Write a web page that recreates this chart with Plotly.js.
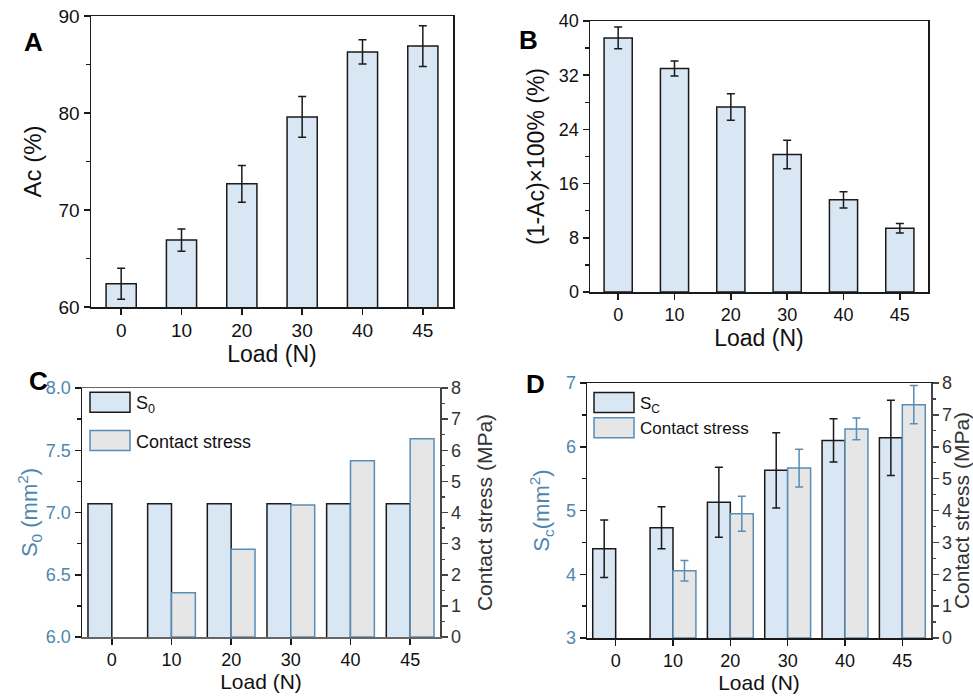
<!DOCTYPE html>
<html>
<head>
<meta charset="utf-8">
<script src="https://cdn.plot.ly/plotly-3.0.1.min.js"></script>
<style>html,body{margin:0;padding:0;background:#fff;}#chart{width:973px;height:697px;}</style>
</head>
<body>
<div id="chart"></div>
<script>
// ---- data ----
const loads = ['0', '10', '20', '30', '40', '45'];
const acValues = [62.4, 66.9, 72.7, 79.6, 86.3, 86.9];
const acErrors = [1.6, 1.15, 1.9, 2.1, 1.25, 2.1];
const poreValues = [37.5, 33.0, 27.3, 20.3, 13.6, 9.4];
const poreErrors = [1.6, 1.1, 1.95, 2.1, 1.2, 0.7];
const s0Values = [7.07, 7.07, 7.07, 7.07, 7.07, 7.07];
const stressC = [null, 1.42, 2.82, 4.24, 5.66, 6.37];
const scValues = [4.40, 4.73, 5.13, 5.63, 6.10, 6.14];
const scErrors = [0.45, 0.33, 0.55, 0.59, 0.34, 0.59];
const stressD = [null, 2.11, 3.90, 5.33, 6.56, 7.32];
const stressDErrors = [null, 0.32, 0.55, 0.59, 0.34, 0.60];

// ---- styles ----
const FONT = 'Liberation Sans, Arial, sans-serif';
const BLUE_FILL = '#d9e6f3';
const GRAY_FILL = '#e6e6e6';
const DARK = '#1a1a1a';
const STEEL = '#5a8db6';
const BLUE_TEXT = '#4f86ad';
const W = 973, H = 697;
const px = v => v / W;
const py = v => 1 - v / H;

const traces = [
  {type: 'bar', x: loads, y: acValues, xaxis: 'x', yaxis: 'y', width: 0.5,
   marker: {color: BLUE_FILL, line: {color: DARK, width: 1.5}},
   error_y: {type: 'data', array: acErrors, visible: true, color: DARK, thickness: 1.5, width: 4},
   showlegend: false},
  {type: 'bar', x: loads, y: poreValues, xaxis: 'x2', yaxis: 'y2', width: 0.5,
   marker: {color: BLUE_FILL, line: {color: DARK, width: 1.5}},
   error_y: {type: 'data', array: poreErrors, visible: true, color: DARK, thickness: 1.5, width: 4},
   showlegend: false},
  {type: 'bar', name: 'S<sub>0</sub>', x: loads, y: s0Values, xaxis: 'x3', yaxis: 'y3',
   width: 0.4, offset: -0.4, legendgroup: 'c1',
   marker: {color: BLUE_FILL, line: {color: DARK, width: 1.5}}, legend: 'legend'},
  {type: 'bar', name: 'Contact stress', x: loads, y: stressC, xaxis: 'x3', yaxis: 'y4',
   width: 0.4, offset: 0, legendgroup: 'c2',
   marker: {color: GRAY_FILL, line: {color: STEEL, width: 1.5}}, legend: 'legend'},
  {type: 'bar', name: 'S<sub>C</sub>', x: loads, y: scValues, xaxis: 'x4', yaxis: 'y5',
   width: 0.4, offset: -0.4, legendgroup: 'd1',
   marker: {color: BLUE_FILL, line: {color: DARK, width: 1.5}},
   error_y: {type: 'data', array: scErrors, visible: true, color: DARK, thickness: 1.5, width: 4},
   legend: 'legend2'},
  {type: 'bar', name: 'Contact stress', x: loads, y: stressD, xaxis: 'x4', yaxis: 'y6',
   width: 0.4, offset: 0, legendgroup: 'd2',
   marker: {color: GRAY_FILL, line: {color: STEEL, width: 1.5}},
   error_y: {type: 'data', array: stressDErrors, visible: true, color: STEEL, thickness: 1.5, width: 4},
   legend: 'legend2'}
];

function xAx(dom, anchor, tSize, size, standoff, lineColor) {
  return {
    domain: dom, anchor: anchor, type: 'category', range: [-0.5, 5.5],
    showline: true, linecolor: lineColor || DARK, linewidth: 1.5, mirror: true,
    ticks: 'outside', ticklen: 6, tickwidth: 1.5, tickcolor: DARK,
    tickfont: {family: FONT, size: size, color: '#111'},
    title: {text: 'Load (N)', font: {family: FONT, size: tSize, color: '#111'}, standoff: standoff},
    showgrid: false, zeroline: false, fixedrange: true
  };
}
function yAx(dom, anchor, range, dtick, minorD, size, title, tSize, color, standoff, extra) {
  return Object.assign({
    domain: dom, anchor: anchor, range: range, dtick: dtick, tick0: 0,
    showline: true, linecolor: DARK, linewidth: 1.5,
    ticks: 'outside', ticklen: 6, tickwidth: 1.5, tickcolor: DARK,
    minor: {dtick: minorD, tick0: 0, ticks: 'outside', ticklen: 3.5, tickwidth: 1.3, tickcolor: DARK, showgrid: false},
    tickfont: {family: FONT, size: size, color: color},
    title: {text: title, font: {family: FONT, size: tSize, color: color}, standoff: standoff},
    showgrid: false, zeroline: false, fixedrange: true
  }, extra || {});
}
const rightMinor = {dtick: 0.5, tick0: 0, ticks: 'outside', ticklen: 3.5, tickwidth: 1.3, tickcolor: '#444', showgrid: false};

const layout = {
  width: W, height: H,
  margin: {l: 0, r: 0, t: 0, b: 0},
  paper_bgcolor: '#fff', plot_bgcolor: 'rgba(0,0,0,0)',
  font: {family: FONT, color: '#111'},
  barmode: 'overlay',
  // Panel A
  xaxis: xAx([px(91), px(453)], 'y', 23, 19, 2),
  yaxis: yAx([py(307), py(16)], 'x', [60, 90], 10, 5, 19, 'Ac (%)', 24, '#111', 10, {mirror: true}),
  // Panel B
  xaxis2: xAx([px(590), px(928)], 'y2', 23, 18, 6),
  yaxis2: yAx([py(292), py(21)], 'x2', [0, 40], 8, 4, 18, '(1-Ac)×100% (%)', 23, '#111', 8, {mirror: true}),
  // Panel C
  xaxis3: xAx([px(82), px(440)], 'y3', 21, 18, 1, '#666'),
  yaxis3: yAx([py(637), py(388)], 'x3', [6, 8], 0.5, 0.25, 18, 'S<sub>0</sub> (mm<sup>2</sup>)', 22, BLUE_TEXT, 2,
              {tickformat: '.1f'}),
  yaxis4: yAx([py(637), py(388)], 'x3', [0, 8], 1, 0.5, 18, 'Contact stress (MPa)', 21, '#333', 17,
              {overlaying: 'y3', side: 'right', linecolor: '#444', tickcolor: '#444', minor: rightMinor}),
  // Panel D
  xaxis4: xAx([px(587), px(931)], 'y5', 21, 18, 4),
  yaxis5: yAx([py(638), py(383)], 'x4', [3, 7], 1, 0.5, 18, 'S<sub>c</sub>(mm<sup>2</sup>)', 22, BLUE_TEXT, 10),
  yaxis6: yAx([py(638), py(383)], 'x4', [0, 8], 1, 0.5, 18, 'Contact stress (MPa)', 21, '#333', 6,
              {overlaying: 'y5', side: 'right', linecolor: '#444', tickcolor: '#444', minor: rightMinor}),
  legend: {x: px(84), y: py(384), xanchor: 'left', yanchor: 'top', bgcolor: 'rgba(0,0,0,0)',
           font: {family: FONT, size: 18, color: '#111'}, itemwidth: 42, tracegroupgap: 12,
           traceorder: 'grouped'},
  legend2: {x: px(588), y: py(385), xanchor: 'left', yanchor: 'top', bgcolor: 'rgba(0,0,0,0)',
            font: {family: FONT, size: 17, color: '#111'}, itemwidth: 42, tracegroupgap: 0,
            traceorder: 'grouped'},
  annotations: [
    {text: '<b>A</b>', x: px(22), y: py(25), xref: 'paper', yref: 'paper', showarrow: false, font: {family: FONT, size: 26, color: '#000'}},
    {text: '<b>B</b>', x: px(528), y: py(23), xref: 'paper', yref: 'paper', showarrow: false, font: {family: FONT, size: 26, color: '#000'}},
    {text: '<b>C</b>', x: px(27), y: py(381), xref: 'paper', yref: 'paper', showarrow: false, font: {family: FONT, size: 26, color: '#000'}},
    {text: '<b>D</b>', x: px(535), y: py(384), xref: 'paper', yref: 'paper', showarrow: false, font: {family: FONT, size: 26, color: '#000'}}
  ]
};

Plotly.newPlot('chart', traces, layout, {staticPlot: true, displayModeBar: false}).then(function (gd) {
  // enlarge the legend swatches into wide rectangles like the original figure
  gd.querySelectorAll('g.legendpoints path').forEach(function (p) {
    p.setAttribute('d', 'M20,10H-20V-10H20Z');
  });
});
</script>
</body>
</html>
